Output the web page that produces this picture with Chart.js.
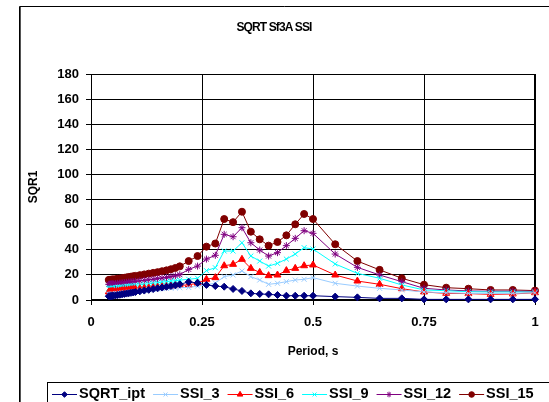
<!DOCTYPE html>
<html>
<head>
<meta charset="utf-8">
<script src="https://cdn.jsdelivr.net/npm/chart.js@4.4.1/dist/chart.umd.min.js"></script>
<style>
html,body{margin:0;padding:0;background:#fff;}
#wrap{width:549px;height:402px;position:relative;}
</style>
</head>
<body>
<div id="wrap"><canvas id="c" width="549" height="402"></canvas></div>
<script>
const chartTitle = "SQRT Sf3A SSI";
const xTitle = "Period, s";
const yTitle = "SQR1";
const xTicks = [0, 0.25, 0.5, 0.75, 1];
const yTicks = [0, 20, 40, 60, 80, 100, 120, 140, 160, 180];

const periods = [0.04,0.042,0.044,0.046,0.048,0.05,0.055,0.06,0.065,0.07,0.075,0.08,0.085,0.09,0.095,0.1,0.11,0.12,0.13,0.14,0.15,0.16,0.17,0.18,0.19,0.2,
  0.22,0.24,0.26,0.28,0.3,0.32,0.34,0.36,0.38,0.4,0.42,0.44,0.46,0.48,0.5,
  0.55,0.6,0.65,0.7,0.75,0.8,0.85,0.9,0.95,1.0];

const sqrtIpt = [3,3,3.1,3.2,3.3,3.4,3.6,3.9,4.2,4.5,4.8,5.1,5.4,5.7,6,6.3,6.9,7.5,8.1,8.7,9.3,9.9,10.5,11.1,11.7,12.5,
  14.4,13.6,12,11.1,10.6,8.8,7.2,5.3,4.8,4.5,4,3.4,3.4,3.4,3.4,
  2.7,2.1,1.3,1.3,0.5,0.5,0.5,0.5,0.5,0.5];
const ssi3 = [4.5,4.5,4.6,4.7,4.8,4.9,5.1,5.3,5.5,5.7,5.9,6.1,6.3,6.5,6.7,6.9,7.3,7.7,8.1,8.5,8.8,9.1,9.3,9.5,9.7,9.8,
  10,11,12,13.5,18.6,19.9,23.1,18.6,15.9,12.5,13.3,14.6,15.9,16.5,17.8,
  13.3,11.1,9.3,8,6.4,5.8,5.3,5.3,5.3,5.8];
const ssi6 = [6.5,6.5,6.6,6.6,6.7,6.8,6.9,7.1,7.3,7.5,7.7,7.9,8.1,8.3,8.5,8.7,9,9.3,9.6,9.9,10.2,10.5,10.8,11.1,11.4,11.7,
  12,13.5,16.5,17.8,27.3,28.4,32.4,25.2,22,19.4,19.9,23.4,25.2,27.3,27.9,
  19.9,15.1,12.5,9,6.4,5.3,5.1,4.5,4.8,5.8];
const ssi9 = [9.3,9.3,9.4,9.5,9.6,9.7,9.9,10.1,10.3,10.5,10.7,10.9,11.1,11.3,11.5,11.7,12.1,12.5,12.9,13.3,13.8,14.2,14.6,15,15.4,15.8,
  16.5,17.3,23.4,25.7,39,39,45.6,35,31,27,29.2,32.6,36.6,41.7,40.6,
  28.7,21.2,17.3,12,8,7.4,6.6,6.4,6.4,6.4];
const ssi12 = [12.5,12.5,12.6,12.7,12.8,12.9,13.1,13.3,13.5,13.7,13.9,14.1,14.3,14.5,14.7,14.9,15.3,15.7,16.1,16.5,17,17.5,18,18.6,19.3,20.2,
  24.4,27,32.6,35.6,52.3,50.4,57.6,45.6,39.8,35,37.7,43.3,49.1,55.2,53.1,
  36.6,26,19.9,14.6,9.3,8,7.2,7,7,7];
const ssi15 = [16,16,16.1,16.2,16.3,16.4,16.6,16.9,17.1,17.4,17.7,18,18.3,18.6,18.9,19.2,19.8,20.4,21,21.6,22.2,22.9,23.6,24.5,25.5,26.8,
  31,35,42.5,45,64.5,62,70.3,54.4,48.3,43.3,46.2,51.5,60.3,68.5,64.5,
  44.4,31,24,17.3,12.2,9.8,9,8,8,7.5];

const seriesNames = ["SQRT_ipt","SSI_3","SSI_6","SSI_9","SSI_12","SSI_15"];
const seriesValues = [sqrtIpt, ssi3, ssi6, ssi9, ssi12, ssi15];
const seriesColors = ["#000080","#99CCFF","#FF0000","#00FFFF","#800080","#800000"];
const seriesMarkers = ["rectRot","crossRot","triangle","crossRot","star","circle"];
const markerRadius = [3.5,3.5,4,3.5,3.5,3.5];

const FONT = "Arial, 'Liberation Sans', sans-serif";

const datasets = seriesNames.map((n,i)=>({
  label:n,
  data: periods.map((p,j)=>({x:p,y:seriesValues[i][j]})),
  borderColor: seriesColors[i],
  backgroundColor: seriesColors[i],
  pointBackgroundColor: seriesColors[i],
  pointBorderColor: seriesColors[i],
  pointStyle: seriesMarkers[i],
  pointRadius: markerRadius[i],
  pointBorderWidth: 1,
  borderWidth: 1,
  tension: 0,
  clip: false
}));

const decor = {
  id:'decor',
  beforeDraw(chart){
    const ctx = chart.ctx;
    ctx.save();
    ctx.fillStyle = '#fff';
    ctx.fillRect(0,0,chart.width,chart.height);
    ctx.strokeStyle = '#000';
    ctx.lineWidth = 1;
    ctx.beginPath();
    ctx.moveTo(19.5, 402);
    ctx.lineTo(19.5, 6.5);
    ctx.lineTo(549, 6.5);
    ctx.stroke();
    ctx.strokeStyle = '#555';
    ctx.beginPath();
    ctx.moveTo(20.5, 402);
    ctx.lineTo(20.5, 7);
    ctx.stroke();
    ctx.restore();
  },
  beforeDatasetsDraw(chart){
    const {ctx, chartArea:a} = chart;
    ctx.save();
    ctx.strokeStyle = '#000';
    ctx.lineWidth = 1;
    ctx.strokeRect(Math.round(a.left)+0.5, Math.round(a.top)+0.5, Math.round(a.right-a.left)-1, Math.round(a.bottom-a.top)-1);
    ctx.restore();
  },
  afterDraw(chart){
    const {ctx, chartArea:a} = chart;
    ctx.save();
    ctx.fillStyle = '#000';
    ctx.font = "bold 12px " + FONT;
    ctx.textAlign = 'center';
    ctx.textBaseline = 'middle';
    try { ctx.letterSpacing = '-0.9px'; } catch(e) {}
    ctx.fillText(chartTitle, 274, 28);
    try { ctx.letterSpacing = '0px'; } catch(e) {}
    ctx.font = "bold 12px " + FONT;
    ctx.fillText(xTitle, (a.left+a.right)/2, 352);
    ctx.save();
    ctx.translate(34, (a.top+a.bottom)/2);
    ctx.rotate(-Math.PI/2);
    ctx.fillText(yTitle, 0, 0);
    ctx.restore();
    // legend
    const bx = 47, by = 382;
    ctx.strokeStyle = '#000';
    ctx.lineWidth = 1;
    ctx.strokeRect(bx+0.5, by+0.5, 560, 40);
    ctx.font = "bold 14.5px " + FONT;
    ctx.textAlign = 'left';
    ctx.textBaseline = 'middle';
    const ly = 394;
    let x = 52;
    chart.data.datasets.forEach((ds,i)=>{
      ctx.strokeStyle = ds.borderColor;
      ctx.lineWidth = 1;
      ctx.beginPath();
      ctx.moveTo(x, ly+0.5);
      ctx.lineTo(x+25, ly+0.5);
      ctx.stroke();
      ctx.fillStyle = ds.pointBackgroundColor;
      ctx.strokeStyle = ds.pointBorderColor;
      Chart.helpers.drawPoint(ctx, {pointStyle: ds.pointStyle, radius: ds.pointRadius*0.8, rotation:0, borderWidth:1}, x+12.5, ly+0.5);
      ctx.fillStyle = '#000';
      ctx.fillText(ds.label, x+27, ly);
      x += 27 + ctx.measureText(ds.label).width + 8;
    });
    ctx.restore();
  }
};

new Chart(document.getElementById('c'), {
  type:'line',
  data:{datasets},
  plugins:[decor],
  options:{
    responsive:false,
    animation:false,
    devicePixelRatio:1,
    layout:{padding:{top:74,right:14,bottom:0,left:0}},
    plugins:{legend:{display:false},title:{display:false},tooltip:{enabled:false}},
    scales:{
      x:{
        type:'linear', min:0, max:1,
        afterFit(s){ s.height = 102; },
        afterBuildTicks(s){ s.ticks = xTicks.map(v=>({value:v})); },
        ticks:{color:'#000', font:{family:FONT, size:13, weight:'bold'}, padding:10, maxRotation:0,
          callback:(v)=>String(v)},
        grid:{color:'#000', lineWidth:1, tickLength:5, drawTicks:true},
        border:{color:'#000', width:1}
      },
      y:{
        type:'linear', min:0, max:180,
        afterFit(s){ s.width = 91; },
        afterBuildTicks(s){ s.ticks = yTicks.map(v=>({value:v})); },
        ticks:{color:'#000', font:{family:FONT, size:13, weight:'bold'}, padding:7},
        grid:{color:'#000', lineWidth:1, tickLength:5, drawTicks:true},
        border:{color:'#000', width:1}
      }
    }
  }
});
</script>
</body>
</html>
